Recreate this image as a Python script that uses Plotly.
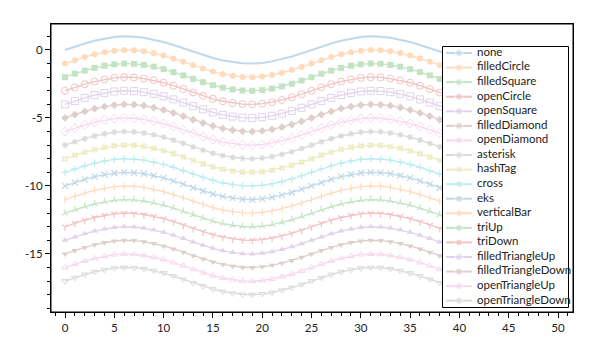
import plotly.graph_objects as go

# ---- data ----
x_values = list(range(51))
# one period (period 25), repeated twice plus the end point
base_wave = [0.00, 0.25, 0.48, 0.68, 0.84, 0.95, 1.00, 0.98, 0.90, 0.77, 0.59, 0.37, 0.13,
             -0.13, -0.37, -0.59, -0.77, -0.90, -0.98, -1.00, -0.95, -0.84, -0.68, -0.48, -0.25,
             0.00, 0.25, 0.48, 0.68, 0.84, 0.95, 1.00, 0.98, 0.90, 0.77, 0.59, 0.37, 0.13,
             -0.13, -0.37, -0.59, -0.77, -0.90, -0.98, -1.00, -0.95, -0.84, -0.68, -0.48, -0.25,
             0.00]
series_names = ["none", "filledCircle", "filledSquare", "openCircle", "openSquare",
                "filledDiamond", "openDiamond", "asterisk", "hashTag", "cross", "eks",
                "verticalBar", "triUp", "triDown", "filledTriangleUp", "filledTriangleDown",
                "openTriangleUp", "openTriangleDown"]
series_offsets = [0, -1, -2, -3, -4, -5, -6, -7, -8, -9, -10, -11, -12, -13, -14, -15, -16, -17]
x_tick_vals = [0, 5, 10, 15, 20, 25, 30, 35, 40, 45, 50]
x_tick_text = ["0", "5", "10", "15", "20", "25", "30", "35", "40", "45", "50"]
y_tick_vals = [0, -5, -10, -15]
y_tick_text = ["0", "-5", "-10", "-15"]

# ---- styles ----
palette = ["#1f77b4", "#ff7f0e", "#2ca02c", "#d62728", "#9467bd",
           "#8c564b", "#e377c2", "#7f7f7f", "#bcbd22", "#17becf"]
symbols = [None, "circle", "square", "circle-open", "square-open", "diamond",
           "diamond-open", "asterisk", "hash", "cross-thin", "x-thin", "line-ns",
           "y-up", "y-down", "triangle-up", "triangle-down", "triangle-up-open",
           "triangle-down-open"]
sizes = [0, 6, 6, 7, 7, 6, 7, 5, 6, 5, 6, 5, 5, 5, 6, 6, 6, 6]
line_only = {"asterisk", "hash", "cross-thin", "x-thin", "line-ns", "y-up", "y-down"}
OPAC = 0.28
FONT = "Lato"

fig = go.Figure()

for i, name in enumerate(series_names):
    color = palette[i % len(palette)]
    yv = [v + series_offsets[i] for v in base_wave]
    sym = symbols[i]
    if sym is None:
        fig.add_trace(go.Scatter(x=x_values, y=yv, mode="lines", name=name,
                                 line=dict(color=color, width=2), opacity=OPAC,
                                 showlegend=False, hoverinfo="skip"))
    else:
        mk = dict(symbol=sym, size=sizes[i], color=color)
        if sym in line_only:
            mk["line"] = dict(color=color, width=1.2)
        elif sym.endswith("open"):
            mk["line"] = dict(color=color, width=1)
        fig.add_trace(go.Scatter(x=x_values, y=yv, mode="lines+markers", name=name,
                                 line=dict(color=color, width=1.3), marker=mk,
                                 opacity=OPAC, showlegend=False, hoverinfo="skip"))

# ---- custom legend drawn on an overlay axis in pixel units ----
L, R, T, B = 51, 573, 24, 312
box_x0, box_x1, box_y0, box_y1 = 442.5, 568.5, 46.5, 307.5
fig.add_trace(go.Scatter(x=[box_x0, box_x1, box_x1, box_x0, box_x0],
                         y=[box_y0, box_y0, box_y1, box_y1, box_y0],
                         mode="lines", fill="toself", fillcolor="white",
                         line=dict(color="black", width=1), xaxis="x2", yaxis="y2",
                         showlegend=False, hoverinfo="skip"))
item_y = [53 + k * 14.57 for k in range(len(series_names))]
for i, name in enumerate(series_names):
    color = palette[i % len(palette)]
    yy = item_y[i]
    fig.add_trace(go.Scatter(x=[446, 459, 472], y=[yy, yy, yy], mode="lines+markers",
                             line=dict(color=color, width=2),
                             marker=dict(symbol="circle", size=[0, 7, 0], color=color),
                             opacity=OPAC, xaxis="x2", yaxis="y2",
                             showlegend=False, hoverinfo="skip"))
fig.add_trace(go.Scatter(x=[477] * len(series_names), y=item_y, mode="text",
                         text=series_names, textposition="middle right",
                         textfont=dict(family=FONT, size=11.5, color="#222"),
                         xaxis="x2", yaxis="y2", showlegend=False, hoverinfo="skip"))

fig.update_layout(
    width=595, height=355,
    margin=dict(l=L, r=595 - R, t=T, b=355 - B, pad=0),
    paper_bgcolor="white", plot_bgcolor="white",
    font=dict(family=FONT, size=11.5, color="#222"),
    showlegend=False,
    xaxis=dict(range=[-1.42, 51.52], tickvals=x_tick_vals, ticktext=x_tick_text,
               showgrid=False, zeroline=False, showline=True, linecolor="black",
               linewidth=1, mirror=True, ticks="outside", ticklen=5, tickcolor="black",
               minor=dict(ticks="outside", dtick=1, tick0=0, ticklen=3, tickcolor="black"),
               fixedrange=True),
    yaxis=dict(range=[-19.27, 1.91], tickvals=y_tick_vals, ticktext=y_tick_text,
               showgrid=False, zeroline=False, showline=True, linecolor="black",
               linewidth=1, mirror=True, ticks="outside", ticklen=5, tickcolor="black",
               minor=dict(ticks="outside", dtick=1, tick0=0, ticklen=3, tickcolor="black"),
               fixedrange=True),
    xaxis2=dict(range=[L, R], overlaying="x", anchor="y2", visible=False,
                showgrid=False, zeroline=False, fixedrange=True),
    yaxis2=dict(range=[B, T], overlaying="y", anchor="x2", visible=False,
                showgrid=False, zeroline=False, fixedrange=True),
    shapes=[dict(type="rect", xref="paper", yref="paper", x0=0, x1=1, y0=0, y1=1,
                 line=dict(color="black", width=1), fillcolor="rgba(0,0,0,0)",
                 layer="above")],
)

fig.write_html("out.html", config={"displayModeBar": False},
               post_script="document.body.style.margin='0';")
